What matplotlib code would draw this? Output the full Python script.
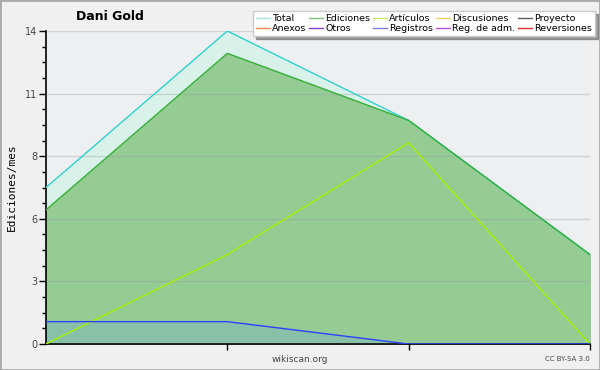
import numpy as np
import matplotlib
matplotlib.use("Agg")
import matplotlib.pyplot as plt
from matplotlib.patches import Rectangle
from matplotlib.lines import Line2D

# monthly values
months = [0, 1, 2, 3]
total = [7, 14, 10, 4]
ediciones = [6, 13, 10, 4]
articulos = [0, 4, 9, 0]
registros = [1, 1, 0, 0]

legend_names = ["Total", "Ediciones", "Artículos", "Discusiones", "Proyecto",
                "Anexos", "Otros", "Registros", "Reg. de adm.", "Reversiones"]
legend_colors = ["#a8e4e4", "#7cc47c", "#c4f060", "#f0d060", "#606060",
                 "#f08850", "#8040d0", "#8080f0", "#c050e0", "#e03030"]

yticks = [0, 2.8, 5.6, 8.4, 11.2, 14]
ytick_labels = ["0", "3", "6", "8", "11", "14"]

fig = plt.figure(figsize=(6, 3.7), dpi=100)
fig.patch.set_facecolor("#f0f0f0")
fig.patches.append(Rectangle((0, 0), 1, 1, transform=fig.transFigure,
                             fill=False, edgecolor="#aaaaaa", linewidth=2))

ax = fig.add_axes([46/600, 26/370, 544/600, 313/370])
ax.set_facecolor("#eeeff1")

ax.fill_between(months, 0, total, color="#d8f2ea", zorder=1)
ax.plot(months, total, color="#30d0d0", lw=1, zorder=4)
ax.fill_between(months, 0, ediciones, color="#94cc94", zorder=2)
ax.plot(months, ediciones, color="#38b038", lw=1, zorder=4)
ax.fill_between(months, 0, registros, color="#88c0a8", zorder=2.5)
ax.plot(months, articulos, color="#a8f000", lw=1, zorder=4)
ax.plot(months, registros, color="#3040ff", lw=1, zorder=4)

ax.set_xlim(0, 3)
ax.set_ylim(0, 14)
ax.set_xticks([1, 2, 3])
ax.set_xticklabels([])
ax.set_yticks(yticks)
ax.set_yticklabels(ytick_labels)
ax.set_yticks(np.arange(0, 14.01, 0.7), minor=True)
ax.tick_params(axis="y", which="major", length=5, width=1, labelsize=7,
               labelcolor="#444444", pad=1)
ax.tick_params(axis="y", which="minor", length=3, width=1)
ax.tick_params(axis="x", length=4, width=1)
ax.grid(axis="y", color="#999999", alpha=0.35, lw=1, zorder=3)
ax.set_axisbelow(False)
for s in ["top", "right"]:
    ax.spines[s].set_visible(False)
ax.spines["left"].set_linewidth(1.2)
ax.spines["bottom"].set_linewidth(1.2)

ax.set_ylabel("Ediciones/mes", fontsize=8, family="DejaVu Sans Mono", labelpad=6)

fig.text(110/600, 1 - 17/370, "Dani Gold", fontsize=9, fontweight="bold",
         ha="center", va="center")
fig.text(300/600, 1 - 359/370, "wikiscan.org", fontsize=6.5, color="#444444",
         ha="center", va="center")
fig.text(590/600, 1 - 359/370, "CC BY-SA 3.0", fontsize=5, color="#444444",
         ha="right", va="center")

handles = [Line2D([], [], color=c, lw=1) for c in legend_colors]
order = []
for i in range(5):
    order += [i, i + 5]
leg = fig.legend([handles[i] for i in order], [legend_names[i] for i in order],
                 ncol=5, loc="upper right", bbox_to_anchor=(595/600, 1 - 11/370),
                 fontsize=6.8, frameon=True, fancybox=False, shadow=True,
                 handlelength=1.5, handletextpad=0.25, columnspacing=0.25,
                 labelspacing=0.15, borderpad=0.3, borderaxespad=0)
leg.get_frame().set_edgecolor("#cccccc")
leg.get_frame().set_facecolor("white")

fig.savefig("out.png", dpi=100, facecolor=fig.get_facecolor())
